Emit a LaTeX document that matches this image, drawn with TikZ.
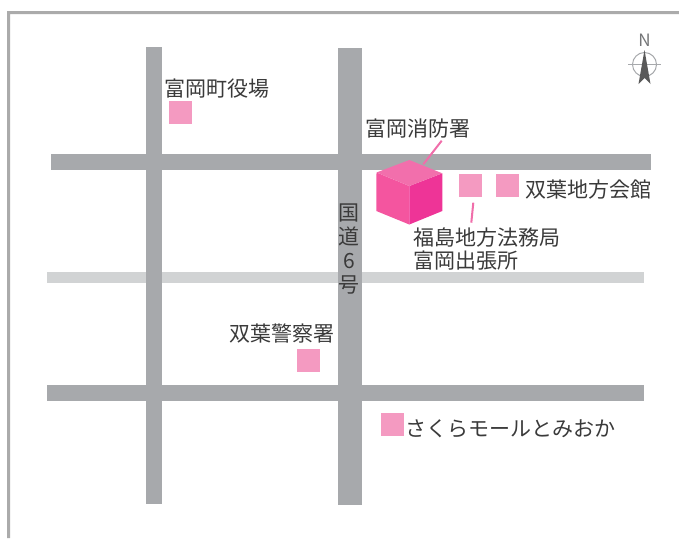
\documentclass[tikz,border=0pt]{standalone}
\usepackage{fontspec}
\setmainfont{Noto Sans CJK JP}
\definecolor{road}{HTML}{A7A9AC}
\definecolor{lightroad}{HTML}{D1D3D4}
\definecolor{frameg}{HTML}{ABABAB}
\definecolor{sq}{HTML}{F49AC1}
\definecolor{lead}{HTML}{F06EAA}
\definecolor{cubetop}{HTML}{F26FAC}
\definecolor{cubeleft}{HTML}{F4559F}
\definecolor{cuberight}{HTML}{EE3497}
\definecolor{txt}{HTML}{3A3A3A}
\tikzset{
  x=1pt,y=-1pt,
  lbl/.style={inner sep=0pt,text=txt,font=\fontsize{21}{23}\selectfont,align=left},
  mark box/.style={fill=sq,draw=none,minimum size=23pt,inner sep=0pt},
  leader/.style={draw=lead,line width=2pt},
  road fill/.style={fill=road,draw=none},
}
\begin{document}
\begin{tikzpicture}
\useasboundingbox (0,0) rectangle (679,538);
% frame
\fill[frameg] (7,538) -- (7,11) -- (679,11) -- (679,14) -- (10,14) -- (10,538) -- cycle;
% roads
\fill[lightroad] (47,272) rectangle (644,283);
\fill[road fill] (51,154) rectangle (651,170);
\fill[road fill] (47,385) rectangle (644,401);
\fill[road fill] (146,47) rectangle (162,504);
\fill[road fill] (338,48) rectangle (362,505);
% squares
\node[mark box] (cho) at (180.5,112.5) {};
\node[mark box] (homu) at (470.5,185.5) {};
\node[mark box] (kaikan) at (507.5,185.5) {};
\node[mark box] (keisatsu) at (308.5,360.5) {};
\node[mark box] (sakura) at (392.5,424.5) {};
% leaders
\coordinate (firetop) at (441.7,140.7);
\coordinate (fireend) at (423.3,164.3);
\coordinate (homutop) at (473.3,202.7);
\coordinate (homuend) at (471.3,222.7);
\draw[leader] (firetop) -- (fireend);
\draw[leader] (homutop) -- (homuend);
% cube
\fill[cubeleft] (376.5,172.5) -- (409.3,186) -- (409.3,224.5) -- (376.3,211) -- cycle;
\fill[cuberight] (442.3,173.3) -- (409.3,186) -- (409.3,224.5) -- (442.3,211) -- cycle;
\fill[cubetop] (409.3,160) -- (442.3,173.3) -- (409.3,186) -- (376.5,172.5) -- cycle;
% labels
\node[lbl,anchor=center] (t1) at (217,89) {富岡町役場};
\node[lbl,anchor=center] (t2) at (418,129) {富岡消防署};
\node[lbl,anchor=center] (t3) at (588,190) {双葉地方会館};
\node[lbl,anchor=north west] (t4) at (413,227.5) {福島地方法務局\\富岡出張所};
\node[lbl,anchor=center] (t5) at (282,334) {双葉警察署};
\node[lbl,anchor=west] (t6) at (405,429) {さくらモールとみおか};
\node[lbl,align=center,anchor=center,font=\fontsize{21}{24}\selectfont] (t7) at (349,249.5) {国\\道\\6\\号};
% compass
\node[inner sep=0pt,text=road!70!black,font=\fontsize{17}{19}\selectfont] (north) at (644.5,40.5) {N};
\draw[road,line width=1pt] (644.5,64.5) circle (12);
\draw[road,line width=1pt] (628,64.5) -- (661,64.5);
\fill[black!65] (644.5,50) -- (650.5,84) -- (644.5,78) -- (638.5,84) -- cycle;
\end{tikzpicture}
\end{document}
